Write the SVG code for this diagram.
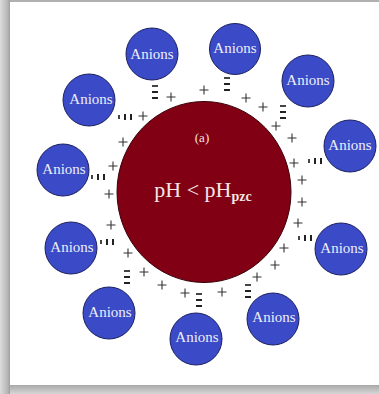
<svg xmlns="http://www.w3.org/2000/svg" width="379" height="394" viewBox="0 0 379 394">
<defs>
<linearGradient id="gl" x1="0" y1="0" x2="1" y2="0">
<stop offset="0" stop-color="#dcdcdc"/>
<stop offset="0.8" stop-color="#b4b4b4"/>
<stop offset="1" stop-color="#9c9c9c"/>
</linearGradient>
<linearGradient id="gb" x1="0" y1="0" x2="0" y2="1">
<stop offset="0" stop-color="#a8a8a8"/>
<stop offset="1" stop-color="#d6d6d6"/>
</linearGradient>
<path id="p" d="M-4.5 0H4.5M0 -4.5V4.5" stroke="#333" stroke-width="1.1" fill="none"/>
<g id="v">
<rect x="-3" y="-7" width="6" height="2" fill="#444"/>
<rect x="-3" y="-1" width="6" height="2" fill="#222"/>
<rect x="-3" y="5" width="6" height="2" fill="#222"/>
</g>
<g id="h">
<rect x="-7" y="-2" width="2" height="4" fill="#444"/>
<rect x="-1" y="-3" width="2" height="6" fill="#222"/>
<rect x="5" y="-3" width="2" height="6" fill="#222"/>
</g>
</defs>
<style>
.an{fill:#3b4ac6;stroke:#1c2260;stroke-width:1}
.at{font-family:"Liberation Serif",serif;font-size:15px;fill:#eceef8;text-anchor:middle}
</style>
<rect x="0" y="0" width="379" height="394" fill="#d0d0d0"/>
<rect x="0" y="0" width="10" height="394" fill="url(#gl)"/>
<rect x="10" y="385" width="369" height="9" fill="url(#gb)"/>
<rect x="10" y="0" width="369" height="2" fill="#b0b0b0"/>
<rect x="10" y="2" width="369" height="383" fill="#ffffff"/>

<g id="particle">
<ellipse cx="204" cy="192" rx="87" ry="90.5" fill="#820013" stroke="#3a0008" stroke-width="1"/>
<text x="202" y="142" font-family="Liberation Serif,serif" font-size="13" fill="#f0e0e0" text-anchor="middle">(a)</text>
<text x="203" y="197" font-family="Liberation Serif,serif" font-size="22" fill="#f4e6e6" text-anchor="middle">pH &lt; pH<tspan font-size="14" font-weight="bold" dy="4">pzc</tspan></text>
</g>

<g id="charges">
<use href="#v" x="155" y="92"/><use href="#p" x="171" y="97"/>
<use href="#p" x="204" y="90"/>
<use href="#v" x="227" y="84"/>
<use href="#p" x="246" y="98"/>
<use href="#p" x="263" y="107"/>
<use href="#v" x="283" y="112"/>
<use href="#p" x="276" y="126"/>
<use href="#p" x="292" y="138"/>
<use href="#p" x="294" y="163"/><use href="#h" x="315" y="161"/>
<use href="#p" x="302" y="180"/>
<use href="#p" x="302" y="202"/>
<use href="#p" x="298" y="223"/>
<use href="#h" x="305" y="238"/>
<use href="#p" x="284" y="248"/>
<use href="#p" x="275" y="265"/>
<use href="#p" x="257" y="277"/>
<use href="#v" x="248" y="291"/>
<use href="#p" x="222" y="292"/>
<use href="#v" x="199" y="300"/>
<use href="#p" x="185" y="293"/>
<use href="#p" x="162" y="285"/>
<use href="#p" x="144" y="272"/>
<use href="#v" x="127" y="277"/>
<use href="#p" x="128" y="253"/>
<use href="#h" x="107" y="242"/>
<use href="#p" x="111" y="225"/>
<use href="#p" x="109" y="194"/>
<use href="#h" x="98" y="177"/>
<use href="#p" x="113" y="166"/>
<use href="#p" x="123" y="142"/>
<use href="#h" x="125" y="117"/><use href="#p" x="143" y="116"/>
</g>

<g id="a1"><circle class="an" cx="152" cy="54" r="26"/><text class="at" x="152" y="59">Anions</text></g>
<g id="a2"><circle class="an" cx="235" cy="49" r="25.5"/><text class="at" x="235" y="53">Anions</text></g>
<g id="a3"><circle class="an" cx="308" cy="81" r="26"/><text class="at" x="308" y="85">Anions</text></g>
<g id="a4"><circle class="an" cx="350" cy="146" r="26"/><text class="at" x="350" y="150">Anions</text></g>
<g id="a5"><circle class="an" cx="341" cy="249" r="26"/><text class="at" x="342" y="253">Anions</text></g>
<g id="a6"><circle class="an" cx="273" cy="319" r="26"/><text class="at" x="274" y="322">Anions</text></g>
<g id="a7"><circle class="an" cx="196" cy="339" r="26"/><text class="at" x="197" y="342">Anions</text></g>
<g id="a8"><circle class="an" cx="109" cy="313" r="26"/><text class="at" x="110" y="317">Anions</text></g>
<g id="a9"><circle class="an" cx="71" cy="248" r="26"/><text class="at" x="72" y="252">Anions</text></g>
<g id="a10"><circle class="an" cx="63" cy="170" r="26"/><text class="at" x="64" y="174">Anions</text></g>
<g id="a11"><circle class="an" cx="89" cy="100" r="26"/><text class="at" x="91" y="104">Anions</text></g>
</svg>
